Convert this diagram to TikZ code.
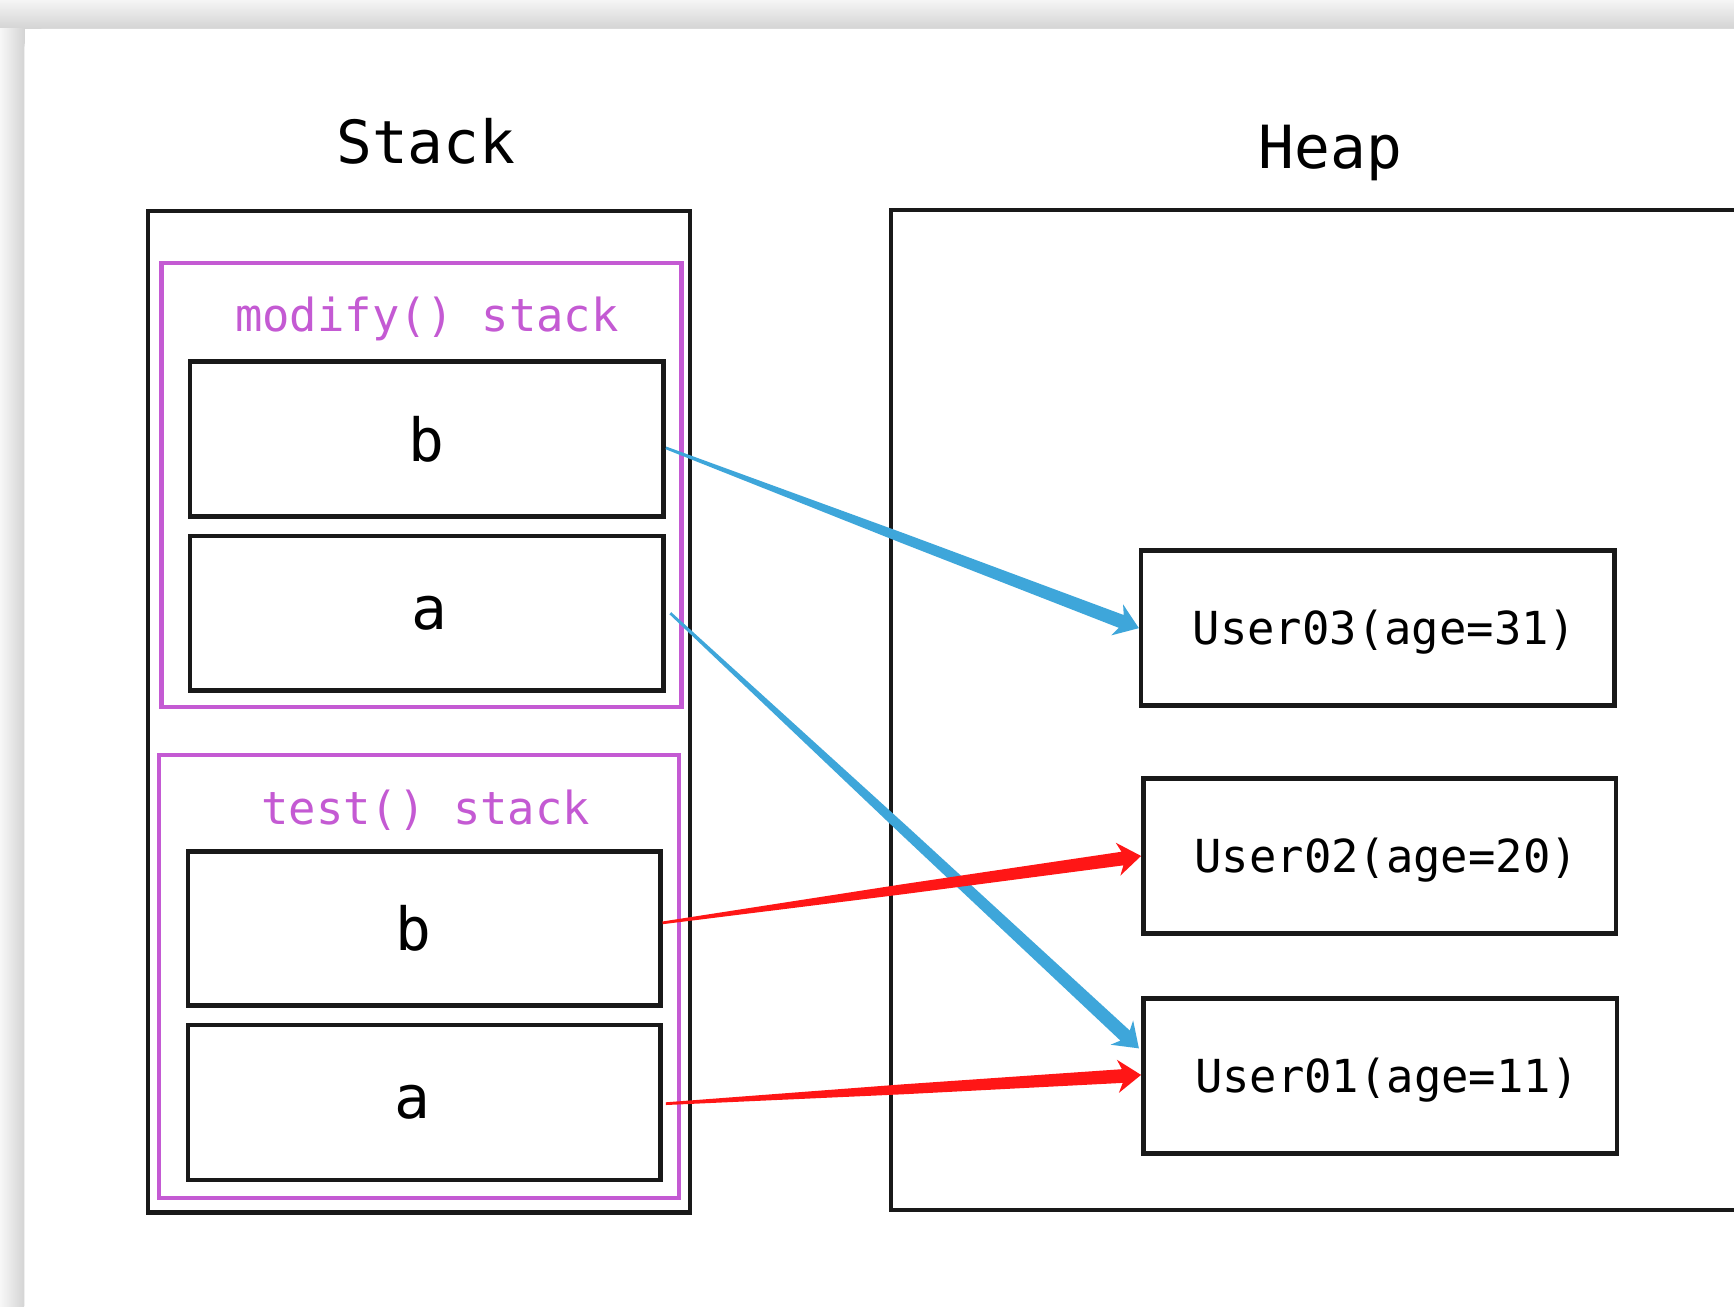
\documentclass[tikz,border=0pt]{standalone}
\usepackage{fontspec}
\usetikzlibrary{calc}
\newfontfamily\codefont{DejaVu Sans Mono}
\definecolor{framepurple}{HTML}{C45AD3}
\definecolor{refblue}{HTML}{3EA6DA}
\definecolor{refred}{HTML}{FF1616}
\tikzset{
	cell/.style={draw=black!90, line width=1.15pt, rectangle, minimum width=4.28cm, minimum height=1.4cm, inner sep=0pt, font=\codefont\fontsize{15.3}{18}\selectfont},
	obj/.style={cell, text height=0.38cm, execute at begin node=\hspace*{0.12cm}, font=\codefont\fontsize{11.7}{14}\selectfont},
	frame/.style={draw=framepurple, line width=1.15pt, rectangle, minimum width=4.7cm, minimum height=4cm, inner sep=0pt},
	area/.style={draw=black!90, line width=1.15pt, rectangle, inner sep=0pt},
	title/.style={anchor=base, font=\codefont\fontsize{15.3}{18}\selectfont},
	frametitle/.style={anchor=base, text=framepurple, font=\codefont\fontsize{11.7}{14}\selectfont}
}
% tapered arrow: tail, tip, colour
\newcommand{\taperarrow}[3]{%
	\path #1 coordinate (tail) #2 coordinate (tip);
	\path ($(tail)!0.5!(tip)$) coordinate (mid) ($(tip)!0.17cm!(tail)$) coordinate (neck) ($(tip)!0.21cm!(tail)$) coordinate (barb);
	\fill[#3] ($(tail)!0.35pt!90:(tip)$) -- ($(mid)!0.045cm!90:(tip)$) -- ($(neck)!0.062cm!90:(tip)$) -- ($(barb)!0.15cm!90:(tip)$) -- (tip)
		-- ($(barb)!0.15cm!-90:(tip)$) -- ($(neck)!0.062cm!-90:(tip)$) -- ($(mid)!0.045cm!-90:(tip)$) -- ($(tail)!0.35pt!-90:(tip)$) -- cycle;
}
\begin{document}
\begin{tikzpicture}[x=0.01cm, y=-0.01cm]
	\useasboundingbox (0,0) rectangle (1568,1181);
	\clip (0,0) rectangle (1568,1181);
	\fill[white] (0,0) rectangle (1568,1181);
	\shade[top color=black!4, bottom color=black!17] (0,0) rectangle (1568,26);
	\shade[left color=black!3, right color=black!17] (0,26) rectangle (22,1181);
	\fill[white, rounded corners=5] (22,26) rectangle (1700,1300);

	\node[title] (stacktitle) at (385,148) {Stack};
	\node[title] (heaptitle) at (1203,152) {Heap};
	\node[area, minimum width=4.9cm, minimum height=9.05cm] (stack) at (379,643.5) {};
	\node[area, minimum width=7.94cm, minimum height=9.04cm] (heap) at (1203,642) {};

	\node[frame, minimum height=4.01cm] (modify) at (381,438.5) {};
	\node[frametitle] (modifytitle) at (386,300) {modify() stack};
	\node[cell] (mb) at (386,397) {b};
	\node[cell, execute at begin node=\hspace*{0.04cm}] (ma) at (386,554.5) {a};

	\node[frame] (test) at (379,883) {};
	\node[frametitle] (testtitle) at (385,746) {test() stack};
	\node[cell, minimum width=4.27cm, minimum height=1.39cm, execute at begin node=\hspace*{-0.2cm}] (tb) at (383.5,839.5) {b};
	\node[cell, minimum width=4.27cm, execute at begin node=\hspace*{-0.22cm}] (ta) at (383.5,997) {a};

	\node[obj] (user03) at (1246,568) {User03(age=31)};
	\node[obj, minimum width=4.27cm] (user02) at (1247.5,774) {User02(age=20)};
	\node[obj] (user01) at (1248,973) {User01(age=11)};

	\taperarrow{($(mb.east)+(0,8)$)}{(user03.west)}{refblue}
	\taperarrow{($(ma.east)+(4,0)$)}{($(user01.west)+(-2,-25)$)}{refblue}
	\taperarrow{($(tb.east)+(0,-5)$)}{(user02.west)}{refred}
	\taperarrow{($(ta.east)+(3,1)$)}{($(user01.west)+(0,-1)$)}{refred}
\end{tikzpicture}
\end{document}
